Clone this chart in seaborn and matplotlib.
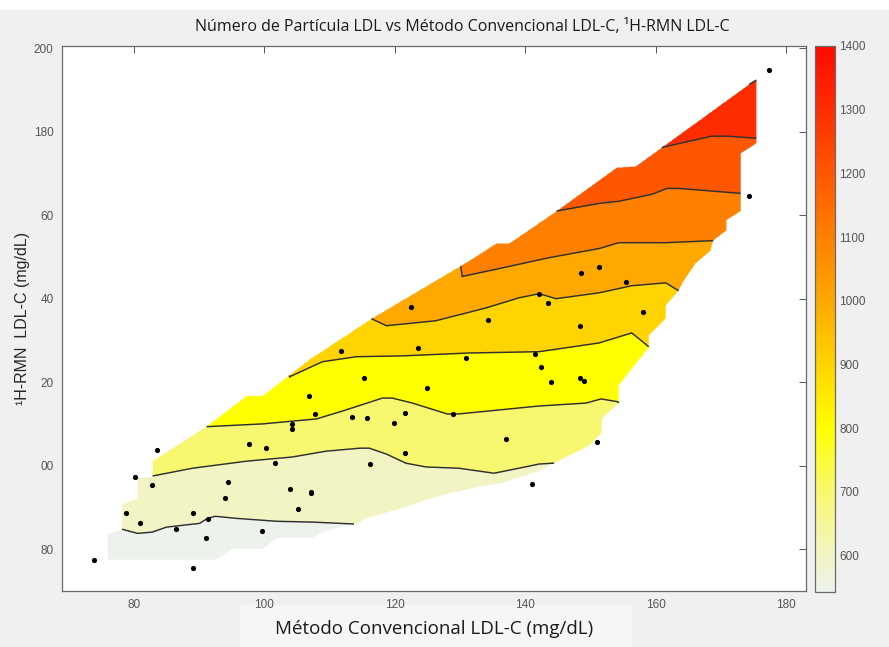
import numpy as np
import matplotlib
matplotlib.use("Agg")
import matplotlib.pyplot as plt
import seaborn as sns
from matplotlib.colors import LinearSegmentedColormap, Normalize
from matplotlib.cm import ScalarMappable
from matplotlib.path import Path
from matplotlib.patches import Rectangle

# ---------------------------------------------------------------------------
# Measured samples: conventional LDL-C vs 1H-NMR LDL-C (mg/dL)
conv_ldl = [73.9, 78.8, 80.2, 80.9, 82.8, 83.5, 86.4, 89.0, 89.0, 91.0,
            91.3, 93.9, 94.4, 97.6, 99.6, 100.2, 101.7, 103.9, 104.2, 104.2,
            105.1, 106.8, 107.1, 107.2, 107.8, 111.8, 113.5, 115.2, 115.8, 116.2,
            119.8, 121.6, 121.6, 122.4, 123.6, 125.0, 128.9, 130.9, 134.3, 137.0,
            141.0, 141.5, 142.1, 142.4, 143.5, 143.9, 148.5, 148.3, 148.3, 149.0,
            150.9, 151.3, 155.4, 158.0, 174.3, 177.4]
rmn_ldl = [77.4, 88.6, 97.3, 86.2, 95.4, 103.8, 84.8, 88.6, 75.4, 82.6,
           87.2, 92.2, 96.1, 105.2, 84.3, 104.2, 100.6, 94.4, 110.0, 108.8,
           89.6, 116.7, 93.7, 93.4, 112.4, 127.5, 111.7, 121.0, 111.4, 100.4,
           110.2, 112.6, 103.0, 138.1, 128.2, 118.6, 112.4, 125.8, 134.9, 106.4,
           95.6, 126.8, 141.0, 123.7, 139.0, 120.1, 146.2, 133.5, 121.0, 120.3,
           105.7, 147.7, 144.1, 136.9, 164.5, 194.7]

# Iso-lines of LDL particle number (nmol/L): (conv LDL-C, NMR LDL-C) traces
levels = [600, 700, 800, 900, 1000, 1100, 1200, 1300, 1400]
iso_x = {
    600:  [77.5, 78.2, 80.6, 82.8, 85.0, 90.1, 91.3, 92.5, 95.7, 101.9, 107.4, 114.4, 115.5],
    700:  [81.5, 82.1, 89.0, 97.3, 104.3, 109.5, 114.6, 116.1, 118.7, 121.7, 124.8, 129.8,
           135.2, 139.0, 142.1, 144.1],
    800:  [90.0, 90.6, 99.7, 108.0, 112.0, 118.1, 119.6, 122.7, 128.0, 129.8, 142.1, 149.3,
           151.6, 154.2, 155.0],
    900:  [103.0, 103.9, 108.9, 114.1, 121.1, 131.4, 142.1, 151.3, 156.3, 158.9, 159.5],
    1000: [115.5, 116.4, 118.7, 126.3, 134.0, 139.0, 142.1, 144.7, 151.3, 156.3, 161.5,
           163.5, 164.2],
    1100: [129.5, 130.3, 136.0, 143.6, 151.3, 154.3, 161.5, 168.8, 169.5],
    1200: [143.5, 144.5, 151.3, 154.3, 159.4, 161.7, 163.5, 173.1, 173.8],
    1300: [159.5, 160.9, 168.5, 171.1, 175.4],
    1400: [173.5, 174.3, 175.4],
}
iso_y = {
    600:  [86.0, 84.8, 83.8, 84.1, 85.3, 86.2, 87.4, 87.9, 87.4, 86.7, 86.5, 86.0, 84.0],
    700:  [99.0, 97.3, 99.4, 101.1, 102.1, 103.5, 104.2, 104.2, 102.8, 100.6, 99.7, 99.4,
           98.2, 99.4, 100.4, 100.6],
    800:  [111.0, 109.3, 110.0, 111.2, 113.1, 116.2, 116.2, 115.0, 112.4, 112.4, 114.3, 115.0,
           116.0, 115.3, 113.0],
    900:  [123.5, 121.3, 124.9, 126.1, 126.3, 127.0, 127.3, 129.4, 131.8, 128.5, 126.0],
    1000: [137.0, 135.2, 133.5, 134.7, 137.8, 140.2, 141.2, 140.0, 141.4, 143.1, 143.8,
           141.9, 139.5],
    1100: [155.0, 145.3, 147.2, 149.8, 152.0, 153.4, 153.4, 153.9, 151.0],
    1200: [163.0, 160.9, 162.8, 163.3, 165.0, 166.4, 166.4, 165.2, 163.0],
    1300: [179.0, 176.2, 178.9, 178.9, 178.4],
    1400: [195.0, 191.3, 192.3],
}

# Outline of the interpolated grid (cells outside carry no estimate)
domain_x = [76.0, 92.5, 95.1, 99.7, 101.9, 107.2, 109.2, 114.3, 115.6, 121.1, 125.7, 127.9,
            133.4, 136.4, 142.1, 144.4, 149.7, 151.7, 151.7, 154.3, 154.3, 156.3, 158.9,
            158.9, 161.5, 161.5, 163.5, 164.3, 166.1, 168.4, 168.8, 170.8, 170.8, 173.1,
            173.1, 175.4, 175.4, 160.9, 156.9, 154.0, 144.7, 137.5, 135.5, 130.9, 116.4,
            106.9, 99.7, 97.3, 91.2, 82.9, 82.9, 80.6, 80.6, 78.2, 78.2, 76.0]
domain_y = [77.4, 77.4, 80.0, 80.0, 82.6, 82.6, 84.3, 86.2, 87.4, 89.8, 92.2, 93.2,
            95.1, 95.8, 98.7, 100.6, 104.7, 107.8, 111.2, 115.0, 119.1, 123.2, 128.2,
            131.1, 135.2, 138.3, 141.9, 144.3, 148.4, 151.5, 153.9, 156.3, 158.7, 161.1,
            174.8, 177.2, 192.6, 176.2, 171.7, 171.4, 160.9, 153.2, 153.2, 148.6, 135.2,
            125.4, 116.7, 116.7, 109.5, 101.1, 97.5, 97.0, 92.2, 90.8, 84.8, 83.6]

# Colour scale anchors (particle number -> colour)
cmap_values = [543, 600, 700, 800, 900, 1000, 1100, 1200, 1300, 1400]
cmap_colors = ["#eef2ec", "#f2f5c3", "#f8f86e", "#ffff00", "#ffd400", "#ffa800",
               "#ff8000", "#ff5800", "#ff2d00", "#ff0a00"]

x_ticks = [80, 100, 120, 140, 160, 180]
y_ticks = [80, 100, 120, 140, 160, 180, 200]
y_tick_labels = ["80", "00", "20", "40", "60", "180", "200"]
cbar_ticks = [600, 700, 800, 900, 1000, 1100, 1200, 1300, 1400]

title = "Número de Partícula LDL vs Método Convencional LDL-C, \u00b9H-RMN LDL-C"
xlabel = "Método Convencional LDL-C (mg/dL)"
ylabel = "\u00b9H-RMN  LDL-C (mg/dL)"

# ---------------------------------------------------------------------------
sns.set_theme(style="white")
plt.rcParams["font.family"] = ["Liberation Sans", "DejaVu Sans"]

vmin, vmax = cmap_values[0], cmap_values[-1]
norm = Normalize(vmin=vmin, vmax=vmax)
cmap = LinearSegmentedColormap.from_list(
    "ldlp", [((v - vmin) / (vmax - vmin), c) for v, c in zip(cmap_values, cmap_colors)])

# Surface of particle number on a regular grid, built from the iso-line traces
gx = np.linspace(69, 183, 1141)
gy = np.linspace(70, 200, 1301)
GX, GY = np.meshgrid(gx, gy)
Z = np.empty_like(GX)
for j, xv in enumerate(gx):
    yl = [np.interp(xv, iso_x[l], iso_y[l]) for l in levels]
    ys = [yl[0] - 20] + yl + [yl[-1] + 20]
    vs = [levels[0] - 100] + levels + [levels[-1] + 100]
    Z[:, j] = np.interp(gy, ys, vs)
inside = Path(np.column_stack([domain_x, domain_y])).contains_points(
    np.column_stack([GX.ravel(), GY.ravel()])).reshape(GX.shape)
Zm = np.ma.masked_where(~inside, Z)

fig = plt.figure(figsize=(8.89, 6.47), dpi=100)
fig.patch.set_facecolor("#f0f0f0")
fig.patches.append(Rectangle((0, 1 - 10 / 647), 1, 10 / 647, transform=fig.transFigure,
                             facecolor="white", edgecolor="none", zorder=-5))
fig.patches.append(Rectangle((240 / 889, 0), 392 / 889, 42 / 647, transform=fig.transFigure,
                             facecolor="#f6f6f6", edgecolor="none", zorder=-5))

ax = fig.add_axes([62 / 889, 1 - 591 / 647, 744 / 889, 545 / 647])
ax.set_facecolor("white")

bounds = [400] + levels + [1600]
band_colors = [cmap(norm(max(b, vmin))) for b in bounds[:-1]]
ax.contourf(GX, GY, Zm, levels=bounds, colors=band_colors, antialiased=True)
ax.contour(GX, GY, Zm, levels=levels, colors="#303030", linewidths=1.05)

sns.scatterplot(x=conv_ldl, y=rmn_ldl, ax=ax, color="black", s=14, linewidth=0, zorder=5)

ax.set_xlim(69, 183)
ax.set_ylim(70, 200.5)
ax.set_xticks(x_ticks)
ax.set_xticklabels([str(t) for t in x_ticks])
ax.set_yticks(y_ticks)
ax.set_yticklabels(y_tick_labels)
ax.tick_params(direction="in", length=5, width=0.7, top=True, right=True,
               colors="#555555", labelsize=8.5, pad=6)
for sp in ax.spines.values():
    sp.set_color("#6a6a6a")
    sp.set_linewidth(0.9)

ax.set_xlabel(xlabel, fontsize=13.5, family=["Open Sans", "DejaVu Sans"], color="#1a1a1a",
              labelpad=6)
ax.set_ylabel(ylabel, fontsize=11.5, color="#262626", labelpad=3)
fig.text(462 / 889, 1 - 27 / 647, title, ha="center", va="center", fontsize=11.5,
         family=["Open Sans", "DejaVu Sans"], color="#1a1a1a")

cax = fig.add_axes([815 / 889, 1 - 592 / 647, 20 / 889, 546 / 647])
cb = fig.colorbar(ScalarMappable(norm=norm, cmap=cmap), cax=cax, ticks=cbar_ticks)
cb.outline.set_edgecolor("#6a6a6a")
cb.outline.set_linewidth(0.9)
cax.tick_params(direction="in", length=2, width=0.7, colors="#555555", labelsize=8.5, pad=3)

fig.savefig("out.png", dpi=100, facecolor=fig.get_facecolor())
